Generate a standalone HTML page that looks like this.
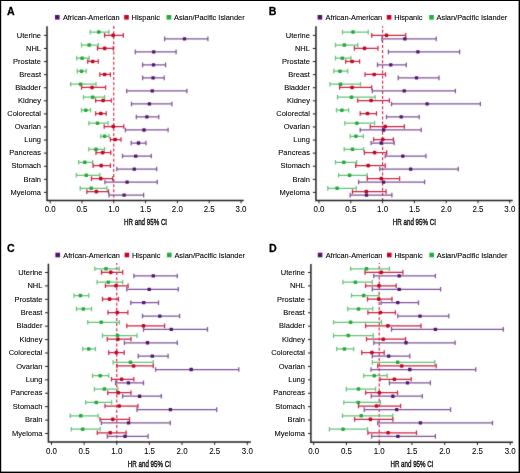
<!DOCTYPE html>
<html><head><meta charset="utf-8"><style>
html,body{margin:0;padding:0;background:#fff;}
svg{display:block;}
text{font-family:"Liberation Sans",sans-serif;-webkit-font-smoothing:antialiased;}
.pl{font-size:11.2px;font-weight:bold;fill:#000;stroke:#000;stroke-width:0.25;}
.lg{font-size:7.4px;fill:#000;stroke:#000;stroke-width:0.1;}
.cl{font-size:7.9px;fill:#000;text-anchor:end;stroke:#000;stroke-width:0.08;}
.xl{font-size:8.3px;fill:#000;text-anchor:middle;stroke:#000;stroke-width:0.05;}
.ht{font-size:9.4px;fill:#111;text-anchor:middle;stroke:#111;stroke-width:0.42;}
.ax{fill:none;stroke:#222;stroke-width:1.5;}
.tk{stroke:#222;stroke-width:1;}
.dash{stroke:#cf1c45;stroke-width:1.1;stroke-dasharray:3 2.1;}
.bar{fill:none;stroke-width:1.25;}
</style></head><body>
<svg width="520" height="473" viewBox="0 0 520 473" style="will-change:transform">
<defs><filter id="bl" x="0" y="0" width="100%" height="100%" filterUnits="userSpaceOnUse" color-interpolation-filters="sRGB"><feConvolveMatrix order="3" kernelMatrix="0.02 0.07 0.02 0.07 0.64 0.07 0.02 0.07 0.02" edgeMode="duplicate"/></filter></defs>
<rect x="0" y="0" width="520" height="473" fill="#fff"/>
<g filter="url(#bl)">
<g><rect x="55" y="15" width="4.6" height="4.6" fill="#50146e"/>
<rect x="124.2" y="15" width="4.6" height="4.6" fill="#c30523"/>
<rect x="166.6" y="15" width="4.6" height="4.6" fill="#23aa37"/>
<line x1="113.77" y1="26.1" x2="113.77" y2="200.4" class="dash" stroke-dashoffset="0"/>
<path d="M47 26.3V200.4H243.7" class="ax"/>
<line x1="43.9" y1="35.4" x2="47" y2="35.4" class="tk"/>
<line x1="43.9" y1="48.48" x2="47" y2="48.48" class="tk"/>
<line x1="43.9" y1="61.57" x2="47" y2="61.57" class="tk"/>
<line x1="43.9" y1="74.65" x2="47" y2="74.65" class="tk"/>
<line x1="43.9" y1="87.73" x2="47" y2="87.73" class="tk"/>
<line x1="43.9" y1="100.82" x2="47" y2="100.82" class="tk"/>
<line x1="43.9" y1="113.9" x2="47" y2="113.9" class="tk"/>
<line x1="43.9" y1="126.98" x2="47" y2="126.98" class="tk"/>
<line x1="43.9" y1="140.07" x2="47" y2="140.07" class="tk"/>
<line x1="43.9" y1="153.15" x2="47" y2="153.15" class="tk"/>
<line x1="43.9" y1="166.23" x2="47" y2="166.23" class="tk"/>
<line x1="43.9" y1="179.32" x2="47" y2="179.32" class="tk"/>
<line x1="43.9" y1="192.4" x2="47" y2="192.4" class="tk"/>
<line x1="50.15" y1="200.4" x2="50.15" y2="203.3" class="tk"/>
<line x1="81.96" y1="200.4" x2="81.96" y2="203.3" class="tk"/>
<line x1="113.77" y1="200.4" x2="113.77" y2="203.3" class="tk"/>
<line x1="145.57" y1="200.4" x2="145.57" y2="203.3" class="tk"/>
<line x1="177.38" y1="200.4" x2="177.38" y2="203.3" class="tk"/>
<line x1="209.19" y1="200.4" x2="209.19" y2="203.3" class="tk"/>
<line x1="241" y1="200.4" x2="241" y2="203.3" class="tk"/>
<path d="M90.2 32.1H109M90.2 29.8V34.4M109 29.8V34.4" stroke="#66c479" class="bar"/>
<rect x="97.05" y="30.35" width="3.5" height="3.5" rx="0.9" fill="#23aa37"/>
<path d="M104.6 35.4H123.3M104.6 33.1V37.7M123.3 33.1V37.7" stroke="#cc2545" class="bar"/>
<rect x="111.3" y="33.6" width="3.6" height="3.6" rx="1.1" fill="#c30523"/>
<path d="M164.6 38.85H207.9M164.6 36.55V41.15M207.9 36.55V41.15" stroke="#7e5496" class="bar"/>
<rect x="182.85" y="37.2" width="3.3" height="3.3" rx="0.5" fill="#50146e"/>
<path d="M81.5 45.12H98.3M81.5 42.82V47.42M98.3 42.82V47.42" stroke="#66c479" class="bar"/>
<rect x="87.45" y="43.37" width="3.5" height="3.5" rx="0.9" fill="#23aa37"/>
<path d="M97.5 48.42H113.3M97.5 46.12V50.72M113.3 46.12V50.72" stroke="#cc2545" class="bar"/>
<rect x="102.9" y="46.62" width="3.6" height="3.6" rx="1.1" fill="#c30523"/>
<path d="M135.3 51.87H176.1M135.3 49.57V54.17M176.1 49.57V54.17" stroke="#7e5496" class="bar"/>
<rect x="152.05" y="50.22" width="3.3" height="3.3" rx="0.5" fill="#50146e"/>
<path d="M76.7 58.14H89.2M76.7 55.84V60.44M89.2 55.84V60.44" stroke="#66c479" class="bar"/>
<rect x="80.35" y="56.39" width="3.5" height="3.5" rx="0.9" fill="#23aa37"/>
<path d="M87.7 61.44H98.3M87.7 59.14V63.74M98.3 59.14V63.74" stroke="#cc2545" class="bar"/>
<rect x="90.9" y="59.64" width="3.6" height="3.6" rx="1.1" fill="#c30523"/>
<path d="M142.6 64.89H165.6M142.6 62.59V67.19M165.6 62.59V67.19" stroke="#7e5496" class="bar"/>
<rect x="151.85" y="63.24" width="3.3" height="3.3" rx="0.5" fill="#50146e"/>
<path d="M77.3 71.16H86.3M77.3 68.86V73.46M86.3 68.86V73.46" stroke="#66c479" class="bar"/>
<rect x="79.75" y="69.41" width="3.5" height="3.5" rx="0.9" fill="#23aa37"/>
<path d="M99.8 74.46H110.4M99.8 72.16V76.76M110.4 72.16V76.76" stroke="#cc2545" class="bar"/>
<rect x="102.8" y="72.66" width="3.6" height="3.6" rx="1.1" fill="#c30523"/>
<path d="M142.6 77.91H164.2M142.6 75.61V80.21M164.2 75.61V80.21" stroke="#7e5496" class="bar"/>
<rect x="151.45" y="76.26" width="3.3" height="3.3" rx="0.5" fill="#50146e"/>
<path d="M70.6 84.18H96M70.6 81.88V86.48M96 81.88V86.48" stroke="#66c479" class="bar"/>
<rect x="78.85" y="82.43" width="3.5" height="3.5" rx="0.9" fill="#23aa37"/>
<path d="M81.5 87.48H105.6M81.5 85.18V89.78M105.6 85.18V89.78" stroke="#cc2545" class="bar"/>
<rect x="90.3" y="85.68" width="3.6" height="3.6" rx="1.1" fill="#c30523"/>
<path d="M126.7 90.93H186.9M126.7 88.63V93.23M186.9 88.63V93.23" stroke="#7e5496" class="bar"/>
<rect x="150.65" y="89.28" width="3.3" height="3.3" rx="0.5" fill="#50146e"/>
<path d="M83.5 97.2H104.6M83.5 94.9V99.5M104.6 94.9V99.5" stroke="#66c479" class="bar"/>
<rect x="90.95" y="95.45" width="3.5" height="3.5" rx="0.9" fill="#23aa37"/>
<path d="M95.6 100.5H111.3M95.6 98.2V102.8M111.3 98.2V102.8" stroke="#cc2545" class="bar"/>
<rect x="101.3" y="98.7" width="3.6" height="3.6" rx="1.1" fill="#c30523"/>
<path d="M131.5 103.95H171.9M131.5 101.65V106.25M171.9 101.65V106.25" stroke="#7e5496" class="bar"/>
<rect x="147.75" y="102.3" width="3.3" height="3.3" rx="0.5" fill="#50146e"/>
<path d="M81.5 110.22H90.6M81.5 107.92V112.52M90.6 107.92V112.52" stroke="#66c479" class="bar"/>
<rect x="84.05" y="108.47" width="3.5" height="3.5" rx="0.9" fill="#23aa37"/>
<path d="M95.6 113.52H106.2M95.6 111.22V115.82M106.2 111.22V115.82" stroke="#cc2545" class="bar"/>
<rect x="99" y="111.72" width="3.6" height="3.6" rx="1.1" fill="#c30523"/>
<path d="M136.3 116.97H158.8M136.3 114.67V119.27M158.8 114.67V119.27" stroke="#7e5496" class="bar"/>
<rect x="145.25" y="115.32" width="3.3" height="3.3" rx="0.5" fill="#50146e"/>
<path d="M88.8 123.24H108.1M88.8 120.94V125.54M108.1 120.94V125.54" stroke="#66c479" class="bar"/>
<rect x="95.75" y="121.49" width="3.5" height="3.5" rx="0.9" fill="#23aa37"/>
<path d="M104.2 126.54H123.8M104.2 124.24V128.84M123.8 124.24V128.84" stroke="#cc2545" class="bar"/>
<rect x="111.5" y="124.74" width="3.6" height="3.6" rx="1.1" fill="#c30523"/>
<path d="M125.4 129.99H168.1M125.4 127.69V132.29M168.1 127.69V132.29" stroke="#7e5496" class="bar"/>
<rect x="142.35" y="128.34" width="3.3" height="3.3" rx="0.5" fill="#50146e"/>
<path d="M100.8 136.26H109M100.8 133.96V138.56M109 133.96V138.56" stroke="#66c479" class="bar"/>
<rect x="102.85" y="134.51" width="3.5" height="3.5" rx="0.9" fill="#23aa37"/>
<path d="M110.4 139.56H121M110.4 137.26V141.86M121 137.26V141.86" stroke="#cc2545" class="bar"/>
<rect x="113.4" y="137.76" width="3.6" height="3.6" rx="1.1" fill="#c30523"/>
<path d="M131.2 143.01H146M131.2 140.71V145.31M146 140.71V145.31" stroke="#7e5496" class="bar"/>
<rect x="136.85" y="141.36" width="3.3" height="3.3" rx="0.5" fill="#50146e"/>
<path d="M88.8 149.28H104.6M88.8 146.98V151.58M104.6 146.98V151.58" stroke="#66c479" class="bar"/>
<rect x="94.25" y="147.53" width="3.5" height="3.5" rx="0.9" fill="#23aa37"/>
<path d="M96 152.58H110.8M96 150.28V154.88M110.8 150.28V154.88" stroke="#cc2545" class="bar"/>
<rect x="100.9" y="150.78" width="3.6" height="3.6" rx="1.1" fill="#c30523"/>
<path d="M122.5 156.03H151.3M122.5 153.73V158.33M151.3 153.73V158.33" stroke="#7e5496" class="bar"/>
<rect x="134.05" y="154.38" width="3.3" height="3.3" rx="0.5" fill="#50146e"/>
<path d="M78.7 162.3H92.7M78.7 160V164.6M92.7 160V164.6" stroke="#66c479" class="bar"/>
<rect x="83.05" y="160.55" width="3.5" height="3.5" rx="0.9" fill="#23aa37"/>
<path d="M93.1 165.6H110.4M93.1 163.3V167.9M110.4 163.3V167.9" stroke="#cc2545" class="bar"/>
<rect x="99.4" y="163.8" width="3.6" height="3.6" rx="1.1" fill="#c30523"/>
<path d="M116.8 169.05H156.7M116.8 166.75V171.35M156.7 166.75V171.35" stroke="#7e5496" class="bar"/>
<rect x="132.65" y="167.4" width="3.3" height="3.3" rx="0.5" fill="#50146e"/>
<path d="M76.3 175.32H99.8M76.3 173.02V177.62M99.8 173.02V177.62" stroke="#66c479" class="bar"/>
<rect x="84.55" y="173.57" width="3.5" height="3.5" rx="0.9" fill="#23aa37"/>
<path d="M91.5 178.62H112.7M91.5 176.32V180.92M112.7 176.32V180.92" stroke="#cc2545" class="bar"/>
<rect x="99" y="176.82" width="3.6" height="3.6" rx="1.1" fill="#c30523"/>
<path d="M104.9 182.07H157.3M104.9 179.77V184.37M157.3 179.77V184.37" stroke="#7e5496" class="bar"/>
<rect x="125.45" y="180.42" width="3.3" height="3.3" rx="0.5" fill="#50146e"/>
<path d="M80.2 188.34H106.9M80.2 186.04V190.64M106.9 186.04V190.64" stroke="#66c479" class="bar"/>
<rect x="89.45" y="186.59" width="3.5" height="3.5" rx="0.9" fill="#23aa37"/>
<path d="M86.9 191.64H108.5M86.9 189.34V193.94M108.5 189.34V193.94" stroke="#cc2545" class="bar"/>
<rect x="94.5" y="189.84" width="3.6" height="3.6" rx="1.1" fill="#c30523"/>
<path d="M109 195.09H143.6M109 192.79V197.39M143.6 192.79V197.39" stroke="#7e5496" class="bar"/>
<rect x="122.45" y="193.44" width="3.3" height="3.3" rx="0.5" fill="#50146e"/></g>
<g><rect x="317.6" y="15" width="4.6" height="4.6" fill="#50146e"/>
<rect x="386.8" y="15" width="4.6" height="4.6" fill="#c30523"/>
<rect x="429.2" y="15" width="4.6" height="4.6" fill="#23aa37"/>
<line x1="382.6" y1="25.9" x2="382.6" y2="200.4" class="dash" stroke-dashoffset="1.3"/>
<path d="M315.95 26.3V200.4H512.7" class="ax"/>
<line x1="312.85" y1="35.4" x2="315.95" y2="35.4" class="tk"/>
<line x1="312.85" y1="48.48" x2="315.95" y2="48.48" class="tk"/>
<line x1="312.85" y1="61.57" x2="315.95" y2="61.57" class="tk"/>
<line x1="312.85" y1="74.65" x2="315.95" y2="74.65" class="tk"/>
<line x1="312.85" y1="87.73" x2="315.95" y2="87.73" class="tk"/>
<line x1="312.85" y1="100.82" x2="315.95" y2="100.82" class="tk"/>
<line x1="312.85" y1="113.9" x2="315.95" y2="113.9" class="tk"/>
<line x1="312.85" y1="126.98" x2="315.95" y2="126.98" class="tk"/>
<line x1="312.85" y1="140.07" x2="315.95" y2="140.07" class="tk"/>
<line x1="312.85" y1="153.15" x2="315.95" y2="153.15" class="tk"/>
<line x1="312.85" y1="166.23" x2="315.95" y2="166.23" class="tk"/>
<line x1="312.85" y1="179.32" x2="315.95" y2="179.32" class="tk"/>
<line x1="312.85" y1="192.4" x2="315.95" y2="192.4" class="tk"/>
<line x1="319" y1="200.4" x2="319" y2="203.3" class="tk"/>
<line x1="350.8" y1="200.4" x2="350.8" y2="203.3" class="tk"/>
<line x1="382.6" y1="200.4" x2="382.6" y2="203.3" class="tk"/>
<line x1="414.4" y1="200.4" x2="414.4" y2="203.3" class="tk"/>
<line x1="446.2" y1="200.4" x2="446.2" y2="203.3" class="tk"/>
<line x1="478" y1="200.4" x2="478" y2="203.3" class="tk"/>
<line x1="509.8" y1="200.4" x2="509.8" y2="203.3" class="tk"/>
<path d="M342.5 32.1H368.2M342.5 29.8V34.4M368.2 29.8V34.4" stroke="#66c479" class="bar"/>
<rect x="351.25" y="30.35" width="3.5" height="3.5" rx="0.9" fill="#23aa37"/>
<path d="M371.7 35.4H405.7M371.7 33.1V37.7M405.7 33.1V37.7" stroke="#cc2545" class="bar"/>
<rect x="384.7" y="33.6" width="3.6" height="3.6" rx="1.1" fill="#c30523"/>
<path d="M381.9 38.85H436.2M381.9 36.55V41.15M436.2 36.55V41.15" stroke="#7e5496" class="bar"/>
<rect x="403.25" y="37.2" width="3.3" height="3.3" rx="0.5" fill="#50146e"/>
<path d="M335.5 45.12H357.8M335.5 42.82V47.42M357.8 42.82V47.42" stroke="#66c479" class="bar"/>
<rect x="342.65" y="43.37" width="3.5" height="3.5" rx="0.9" fill="#23aa37"/>
<path d="M354.4 48.42H378M354.4 46.12V50.72M378 46.12V50.72" stroke="#cc2545" class="bar"/>
<rect x="362.8" y="46.62" width="3.6" height="3.6" rx="1.1" fill="#c30523"/>
<path d="M388.4 51.87H459.6M388.4 49.57V54.17M459.6 49.57V54.17" stroke="#7e5496" class="bar"/>
<rect x="416.25" y="50.22" width="3.3" height="3.3" rx="0.5" fill="#50146e"/>
<path d="M335.5 58.14H350.9M335.5 55.84V60.44M350.9 55.84V60.44" stroke="#66c479" class="bar"/>
<rect x="340.55" y="56.39" width="3.5" height="3.5" rx="0.9" fill="#23aa37"/>
<path d="M345.7 61.44H359.6M345.7 59.14V63.74M359.6 59.14V63.74" stroke="#cc2545" class="bar"/>
<rect x="350.3" y="59.64" width="3.6" height="3.6" rx="1.1" fill="#c30523"/>
<path d="M377.5 64.89H406.3M377.5 62.59V67.19M406.3 62.59V67.19" stroke="#7e5496" class="bar"/>
<rect x="389.15" y="63.24" width="3.3" height="3.3" rx="0.5" fill="#50146e"/>
<path d="M333.8 71.16H347.7M333.8 68.86V73.46M347.7 68.86V73.46" stroke="#66c479" class="bar"/>
<rect x="338.25" y="69.41" width="3.5" height="3.5" rx="0.9" fill="#23aa37"/>
<path d="M365 74.46H385.5M365 72.16V76.76M385.5 72.16V76.76" stroke="#cc2545" class="bar"/>
<rect x="372.4" y="72.66" width="3.6" height="3.6" rx="1.1" fill="#c30523"/>
<path d="M398.2 77.91H439M398.2 75.61V80.21M439 75.61V80.21" stroke="#7e5496" class="bar"/>
<rect x="414.85" y="76.26" width="3.3" height="3.3" rx="0.5" fill="#50146e"/>
<path d="M330 84.18H360.5M330 81.88V86.48M360.5 81.88V86.48" stroke="#66c479" class="bar"/>
<rect x="338.75" y="82.43" width="3.5" height="3.5" rx="0.9" fill="#23aa37"/>
<path d="M339.6 87.48H371.7M339.6 85.18V89.78M371.7 85.18V89.78" stroke="#cc2545" class="bar"/>
<rect x="350.3" y="85.68" width="3.6" height="3.6" rx="1.1" fill="#c30523"/>
<path d="M372.3 90.93H455.4M372.3 88.63V93.23M455.4 88.63V93.23" stroke="#7e5496" class="bar"/>
<rect x="402.55" y="89.28" width="3.3" height="3.3" rx="0.5" fill="#50146e"/>
<path d="M337.5 97.2H375.2M337.5 94.9V99.5M375.2 94.9V99.5" stroke="#66c479" class="bar"/>
<rect x="349.75" y="95.45" width="3.5" height="3.5" rx="0.9" fill="#23aa37"/>
<path d="M357.7 100.5H389.4M357.7 98.2V102.8M389.4 98.2V102.8" stroke="#cc2545" class="bar"/>
<rect x="369.3" y="98.7" width="3.6" height="3.6" rx="1.1" fill="#c30523"/>
<path d="M391.5 103.95H480.4M391.5 101.65V106.25M480.4 101.65V106.25" stroke="#7e5496" class="bar"/>
<rect x="425.45" y="102.3" width="3.3" height="3.3" rx="0.5" fill="#50146e"/>
<path d="M336.5 110.22H348.6M336.5 107.92V112.52M348.6 107.92V112.52" stroke="#66c479" class="bar"/>
<rect x="340.15" y="108.47" width="3.5" height="3.5" rx="0.9" fill="#23aa37"/>
<path d="M360.2 113.52H376.5M360.2 111.22V115.82M376.5 111.22V115.82" stroke="#cc2545" class="bar"/>
<rect x="365.7" y="111.72" width="3.6" height="3.6" rx="1.1" fill="#c30523"/>
<path d="M386.5 116.97H419.2M386.5 114.67V119.27M419.2 114.67V119.27" stroke="#7e5496" class="bar"/>
<rect x="399.55" y="115.32" width="3.3" height="3.3" rx="0.5" fill="#50146e"/>
<path d="M344.8 123.24H374.6M344.8 120.94V125.54M374.6 120.94V125.54" stroke="#66c479" class="bar"/>
<rect x="355.15" y="121.49" width="3.5" height="3.5" rx="0.9" fill="#23aa37"/>
<path d="M370.3 126.54H404.4M370.3 124.24V128.84M404.4 124.24V128.84" stroke="#cc2545" class="bar"/>
<rect x="383.4" y="124.74" width="3.6" height="3.6" rx="1.1" fill="#c30523"/>
<path d="M360.2 129.99H421.2M360.2 127.69V132.29M421.2 127.69V132.29" stroke="#7e5496" class="bar"/>
<rect x="381.95" y="128.34" width="3.3" height="3.3" rx="0.5" fill="#50146e"/>
<path d="M350.2 136.26H363.4M350.2 133.96V138.56M363.4 133.96V138.56" stroke="#66c479" class="bar"/>
<rect x="354.15" y="134.51" width="3.5" height="3.5" rx="0.9" fill="#23aa37"/>
<path d="M373.6 139.56H393.4M373.6 137.26V141.86M393.4 137.26V141.86" stroke="#cc2545" class="bar"/>
<rect x="381" y="137.76" width="3.6" height="3.6" rx="1.1" fill="#c30523"/>
<path d="M371.1 143.01H394.2M371.1 140.71V145.31M394.2 140.71V145.31" stroke="#7e5496" class="bar"/>
<rect x="379.65" y="141.36" width="3.3" height="3.3" rx="0.5" fill="#50146e"/>
<path d="M344.2 149.28H363.6M344.2 146.98V151.58M363.6 146.98V151.58" stroke="#66c479" class="bar"/>
<rect x="350.75" y="147.53" width="3.5" height="3.5" rx="0.9" fill="#23aa37"/>
<path d="M364.4 152.58H386.7M364.4 150.28V154.88M386.7 150.28V154.88" stroke="#cc2545" class="bar"/>
<rect x="372.8" y="150.78" width="3.6" height="3.6" rx="1.1" fill="#c30523"/>
<path d="M385.2 156.03H426M385.2 153.73V158.33M426 153.73V158.33" stroke="#7e5496" class="bar"/>
<rect x="401.15" y="154.38" width="3.3" height="3.3" rx="0.5" fill="#50146e"/>
<path d="M335.5 162.3H356.7M335.5 160V164.6M356.7 160V164.6" stroke="#66c479" class="bar"/>
<rect x="342.05" y="160.55" width="3.5" height="3.5" rx="0.9" fill="#23aa37"/>
<path d="M355.7 165.6H385.2M355.7 163.3V167.9M385.2 163.3V167.9" stroke="#cc2545" class="bar"/>
<rect x="366.4" y="163.8" width="3.6" height="3.6" rx="1.1" fill="#c30523"/>
<path d="M379.8 169.05H458.3M379.8 166.75V171.35M458.3 166.75V171.35" stroke="#7e5496" class="bar"/>
<rect x="409.05" y="167.4" width="3.3" height="3.3" rx="0.5" fill="#50146e"/>
<path d="M338.6 175.32H367.3M338.6 173.02V177.62M367.3 173.02V177.62" stroke="#66c479" class="bar"/>
<rect x="347.85" y="173.57" width="3.5" height="3.5" rx="0.9" fill="#23aa37"/>
<path d="M367.3 178.62H399.6M367.3 176.32V180.92M399.6 176.32V180.92" stroke="#cc2545" class="bar"/>
<rect x="379.5" y="176.82" width="3.6" height="3.6" rx="1.1" fill="#c30523"/>
<path d="M358.6 182.07H424.6M358.6 179.77V184.37M424.6 179.77V184.37" stroke="#7e5496" class="bar"/>
<rect x="381.95" y="180.42" width="3.3" height="3.3" rx="0.5" fill="#50146e"/>
<path d="M327.8 188.34H356.3M327.8 186.04V190.64M356.3 186.04V190.64" stroke="#66c479" class="bar"/>
<rect x="335.35" y="186.59" width="3.5" height="3.5" rx="0.9" fill="#23aa37"/>
<path d="M352.5 191.64H386.1M352.5 189.34V193.94M386.1 189.34V193.94" stroke="#cc2545" class="bar"/>
<rect x="364.5" y="189.84" width="3.6" height="3.6" rx="1.1" fill="#c30523"/>
<path d="M350.2 195.09H391.9M350.2 192.79V197.39M391.9 192.79V197.39" stroke="#7e5496" class="bar"/>
<rect x="364.85" y="193.44" width="3.3" height="3.3" rx="0.5" fill="#50146e"/></g>
<g><rect x="55.4" y="252.7" width="4.6" height="4.6" fill="#50146e"/>
<rect x="124.6" y="252.7" width="4.6" height="4.6" fill="#c30523"/>
<rect x="167" y="252.7" width="4.6" height="4.6" fill="#23aa37"/>
<line x1="116.77" y1="263" x2="116.77" y2="442" class="dash" stroke-dashoffset="1.1"/>
<path d="M48.4 263.8V442H250.9" class="ax"/>
<line x1="45" y1="272.5" x2="48.4" y2="272.5" class="tk"/>
<line x1="45" y1="285.92" x2="48.4" y2="285.92" class="tk"/>
<line x1="45" y1="299.33" x2="48.4" y2="299.33" class="tk"/>
<line x1="45" y1="312.75" x2="48.4" y2="312.75" class="tk"/>
<line x1="45" y1="326.17" x2="48.4" y2="326.17" class="tk"/>
<line x1="45" y1="339.58" x2="48.4" y2="339.58" class="tk"/>
<line x1="45" y1="353" x2="48.4" y2="353" class="tk"/>
<line x1="45" y1="366.42" x2="48.4" y2="366.42" class="tk"/>
<line x1="45" y1="379.83" x2="48.4" y2="379.83" class="tk"/>
<line x1="45" y1="393.25" x2="48.4" y2="393.25" class="tk"/>
<line x1="45" y1="406.67" x2="48.4" y2="406.67" class="tk"/>
<line x1="45" y1="420.08" x2="48.4" y2="420.08" class="tk"/>
<line x1="45" y1="433.5" x2="48.4" y2="433.5" class="tk"/>
<line x1="51.5" y1="442" x2="51.5" y2="444.9" class="tk"/>
<line x1="84.13" y1="442" x2="84.13" y2="444.9" class="tk"/>
<line x1="116.77" y1="442" x2="116.77" y2="444.9" class="tk"/>
<line x1="149.4" y1="442" x2="149.4" y2="444.9" class="tk"/>
<line x1="182.03" y1="442" x2="182.03" y2="444.9" class="tk"/>
<line x1="214.67" y1="442" x2="214.67" y2="444.9" class="tk"/>
<line x1="247.3" y1="442" x2="247.3" y2="444.9" class="tk"/>
<path d="M94.8 268.8H119.2M94.8 266.5V271.1M119.2 266.5V271.1" stroke="#66c479" class="bar"/>
<rect x="104.25" y="267.05" width="3.5" height="3.5" rx="0.9" fill="#23aa37"/>
<path d="M101.5 272.4H122.7M101.5 270.1V274.7M122.7 270.1V274.7" stroke="#cc2545" class="bar"/>
<rect x="109" y="270.6" width="3.6" height="3.6" rx="1.1" fill="#c30523"/>
<path d="M133.9 275.95H177.3M133.9 273.65V278.25M177.3 273.65V278.25" stroke="#7e5496" class="bar"/>
<rect x="151.65" y="274.3" width="3.3" height="3.3" rx="0.5" fill="#50146e"/>
<path d="M97.1 282.16H122.7M97.1 279.86V284.46M122.7 279.86V284.46" stroke="#66c479" class="bar"/>
<rect x="106.55" y="280.41" width="3.5" height="3.5" rx="0.9" fill="#23aa37"/>
<path d="M105.4 285.76H128.1M105.4 283.46V288.06M128.1 283.46V288.06" stroke="#cc2545" class="bar"/>
<rect x="114.2" y="283.96" width="3.6" height="3.6" rx="1.1" fill="#c30523"/>
<path d="M126.8 289.31H178.3M126.8 287.01V291.62M178.3 287.01V291.62" stroke="#7e5496" class="bar"/>
<rect x="147.55" y="287.67" width="3.3" height="3.3" rx="0.5" fill="#50146e"/>
<path d="M74 295.53H88.7M74 293.23V297.83M88.7 293.23V297.83" stroke="#66c479" class="bar"/>
<rect x="78.65" y="293.78" width="3.5" height="3.5" rx="0.9" fill="#23aa37"/>
<path d="M102.5 299.13H118.5M102.5 296.83V301.43M118.5 296.83V301.43" stroke="#cc2545" class="bar"/>
<rect x="107.8" y="297.33" width="3.6" height="3.6" rx="1.1" fill="#c30523"/>
<path d="M130.8 302.68H158.5M130.8 300.38V304.98M158.5 300.38V304.98" stroke="#7e5496" class="bar"/>
<rect x="142.05" y="301.03" width="3.3" height="3.3" rx="0.5" fill="#50146e"/>
<path d="M76.5 308.89H91.5M76.5 306.59V311.19M91.5 306.59V311.19" stroke="#66c479" class="bar"/>
<rect x="81.55" y="307.14" width="3.5" height="3.5" rx="0.9" fill="#23aa37"/>
<path d="M107.9 312.5H127.9M107.9 310.19V314.8M127.9 310.19V314.8" stroke="#cc2545" class="bar"/>
<rect x="115.5" y="310.69" width="3.6" height="3.6" rx="1.1" fill="#c30523"/>
<path d="M142.5 316.05H179.6M142.5 313.75V318.35M179.6 313.75V318.35" stroke="#7e5496" class="bar"/>
<rect x="158.15" y="314.4" width="3.3" height="3.3" rx="0.5" fill="#50146e"/>
<path d="M87.7 322.26H119.4M87.7 319.96V324.56M119.4 319.96V324.56" stroke="#66c479" class="bar"/>
<rect x="99.45" y="320.51" width="3.5" height="3.5" rx="0.9" fill="#23aa37"/>
<path d="M126.8 325.86H164.6M126.8 323.56V328.16M164.6 323.56V328.16" stroke="#cc2545" class="bar"/>
<rect x="141.7" y="324.06" width="3.6" height="3.6" rx="1.1" fill="#c30523"/>
<path d="M143.5 329.41H207.5M143.5 327.11V331.71M207.5 327.11V331.71" stroke="#7e5496" class="bar"/>
<rect x="169.65" y="327.76" width="3.3" height="3.3" rx="0.5" fill="#50146e"/>
<path d="M102.5 335.62H137M102.5 333.32V337.92M137 333.32V337.92" stroke="#66c479" class="bar"/>
<rect x="115.75" y="333.87" width="3.5" height="3.5" rx="0.9" fill="#23aa37"/>
<path d="M107.3 339.22H131M107.3 336.92V341.52M131 336.92V341.52" stroke="#cc2545" class="bar"/>
<rect x="116.1" y="337.42" width="3.6" height="3.6" rx="1.1" fill="#c30523"/>
<path d="M124.4 342.77H177.3M124.4 340.47V345.07M177.3 340.47V345.07" stroke="#7e5496" class="bar"/>
<rect x="145.85" y="341.12" width="3.3" height="3.3" rx="0.5" fill="#50146e"/>
<path d="M82.7 348.99H95.4M82.7 346.69V351.29M95.4 346.69V351.29" stroke="#66c479" class="bar"/>
<rect x="86.95" y="347.24" width="3.5" height="3.5" rx="0.9" fill="#23aa37"/>
<path d="M108.7 352.59H124.2M108.7 350.29V354.89M124.2 350.29V354.89" stroke="#cc2545" class="bar"/>
<rect x="114.5" y="350.79" width="3.6" height="3.6" rx="1.1" fill="#c30523"/>
<path d="M138.2 356.14H168.1M138.2 353.84V358.44M168.1 353.84V358.44" stroke="#7e5496" class="bar"/>
<rect x="150.65" y="354.49" width="3.3" height="3.3" rx="0.5" fill="#50146e"/>
<path d="M113.1 362.35H153.3M113.1 360.05V364.65M153.3 360.05V364.65" stroke="#66c479" class="bar"/>
<rect x="128.75" y="360.6" width="3.5" height="3.5" rx="0.9" fill="#23aa37"/>
<path d="M116.9 365.95H153.3M116.9 363.65V368.25M153.3 363.65V368.25" stroke="#cc2545" class="bar"/>
<rect x="131.8" y="364.15" width="3.6" height="3.6" rx="1.1" fill="#c30523"/>
<path d="M155.6 369.5H238.8M155.6 367.2V371.81M238.8 367.2V371.81" stroke="#7e5496" class="bar"/>
<rect x="189.55" y="367.86" width="3.3" height="3.3" rx="0.5" fill="#50146e"/>
<path d="M92.5 375.72H108.7M92.5 373.42V378.02M108.7 373.42V378.02" stroke="#66c479" class="bar"/>
<rect x="98.45" y="373.97" width="3.5" height="3.5" rx="0.9" fill="#23aa37"/>
<path d="M111.5 379.32H133.8M111.5 377.02V381.62M133.8 377.02V381.62" stroke="#cc2545" class="bar"/>
<rect x="119.8" y="377.52" width="3.6" height="3.6" rx="1.1" fill="#c30523"/>
<path d="M115.6 382.87H143.5M115.6 380.57V385.17M143.5 380.57V385.17" stroke="#7e5496" class="bar"/>
<rect x="126.75" y="381.22" width="3.3" height="3.3" rx="0.5" fill="#50146e"/>
<path d="M94.4 389.08H117.9M94.4 386.78V391.38M117.9 386.78V391.38" stroke="#66c479" class="bar"/>
<rect x="102.65" y="387.33" width="3.5" height="3.5" rx="0.9" fill="#23aa37"/>
<path d="M107.7 392.68H131M107.7 390.38V394.98M131 390.38V394.98" stroke="#cc2545" class="bar"/>
<rect x="116.5" y="390.88" width="3.6" height="3.6" rx="1.1" fill="#c30523"/>
<path d="M122.6 396.23H161.3M122.6 393.93V398.53M161.3 393.93V398.53" stroke="#7e5496" class="bar"/>
<rect x="137.95" y="394.58" width="3.3" height="3.3" rx="0.5" fill="#50146e"/>
<path d="M85.6 402.45H111.7M85.6 400.15V404.75M111.7 400.15V404.75" stroke="#66c479" class="bar"/>
<rect x="94.55" y="400.7" width="3.5" height="3.5" rx="0.9" fill="#23aa37"/>
<path d="M105 406.05H137.9M105 403.75V408.35M137.9 403.75V408.35" stroke="#cc2545" class="bar"/>
<rect x="117.4" y="404.25" width="3.6" height="3.6" rx="1.1" fill="#c30523"/>
<path d="M137 409.6H216.7M137 407.3V411.9M216.7 407.3V411.9" stroke="#7e5496" class="bar"/>
<rect x="168.75" y="407.95" width="3.3" height="3.3" rx="0.5" fill="#50146e"/>
<path d="M70.2 415.81H98.1M70.2 413.51V418.11M98.1 413.51V418.11" stroke="#66c479" class="bar"/>
<rect x="79.05" y="414.06" width="3.5" height="3.5" rx="0.9" fill="#23aa37"/>
<path d="M100 419.41H129.5M100 417.11V421.71M129.5 417.11V421.71" stroke="#cc2545" class="bar"/>
<rect x="111" y="417.61" width="3.6" height="3.6" rx="1.1" fill="#c30523"/>
<path d="M101.4 422.96H170.3M101.4 420.66V425.26M170.3 420.66V425.26" stroke="#7e5496" class="bar"/>
<rect x="126.85" y="421.31" width="3.3" height="3.3" rx="0.5" fill="#50146e"/>
<path d="M71.3 429.18H100.2M71.3 426.88V431.48M100.2 426.88V431.48" stroke="#66c479" class="bar"/>
<rect x="80.95" y="427.43" width="3.5" height="3.5" rx="0.9" fill="#23aa37"/>
<path d="M97.3 432.78H126.1M97.3 430.48V435.08M126.1 430.48V435.08" stroke="#cc2545" class="bar"/>
<rect x="108.4" y="430.98" width="3.6" height="3.6" rx="1.1" fill="#c30523"/>
<path d="M107.3 436.33H148.1M107.3 434.03V438.63M148.1 434.03V438.63" stroke="#7e5496" class="bar"/>
<rect x="123.35" y="434.68" width="3.3" height="3.3" rx="0.5" fill="#50146e"/></g>
<g><rect x="317.8" y="252.7" width="4.6" height="4.6" fill="#50146e"/>
<rect x="387" y="252.7" width="4.6" height="4.6" fill="#c30523"/>
<rect x="429.4" y="252.7" width="4.6" height="4.6" fill="#23aa37"/>
<line x1="379.2" y1="262.9" x2="379.2" y2="442.2" class="dash" stroke-dashoffset="1.8"/>
<path d="M310.9 263.9V442.2H513.1" class="ax"/>
<line x1="308" y1="272.5" x2="310.9" y2="272.5" class="tk"/>
<line x1="308" y1="285.92" x2="310.9" y2="285.92" class="tk"/>
<line x1="308" y1="299.33" x2="310.9" y2="299.33" class="tk"/>
<line x1="308" y1="312.75" x2="310.9" y2="312.75" class="tk"/>
<line x1="308" y1="326.17" x2="310.9" y2="326.17" class="tk"/>
<line x1="308" y1="339.58" x2="310.9" y2="339.58" class="tk"/>
<line x1="308" y1="353" x2="310.9" y2="353" class="tk"/>
<line x1="308" y1="366.42" x2="310.9" y2="366.42" class="tk"/>
<line x1="308" y1="379.83" x2="310.9" y2="379.83" class="tk"/>
<line x1="308" y1="393.25" x2="310.9" y2="393.25" class="tk"/>
<line x1="308" y1="406.67" x2="310.9" y2="406.67" class="tk"/>
<line x1="308" y1="420.08" x2="310.9" y2="420.08" class="tk"/>
<line x1="308" y1="433.5" x2="310.9" y2="433.5" class="tk"/>
<line x1="313.7" y1="442.2" x2="313.7" y2="445.1" class="tk"/>
<line x1="346.45" y1="442.2" x2="346.45" y2="445.1" class="tk"/>
<line x1="379.2" y1="442.2" x2="379.2" y2="445.1" class="tk"/>
<line x1="411.95" y1="442.2" x2="411.95" y2="445.1" class="tk"/>
<line x1="444.7" y1="442.2" x2="444.7" y2="445.1" class="tk"/>
<line x1="477.45" y1="442.2" x2="477.45" y2="445.1" class="tk"/>
<line x1="510.2" y1="442.2" x2="510.2" y2="445.1" class="tk"/>
<path d="M350.6 268.8H389.4M350.6 266.5V271.1M389.4 266.5V271.1" stroke="#66c479" class="bar"/>
<rect x="364.75" y="267.05" width="3.5" height="3.5" rx="0.9" fill="#23aa37"/>
<path d="M365 272.4H402.9M365 270.1V274.7M402.9 270.1V274.7" stroke="#cc2545" class="bar"/>
<rect x="379.5" y="270.6" width="3.6" height="3.6" rx="1.1" fill="#c30523"/>
<path d="M373.7 275.95H435.4M373.7 273.65V278.25M435.4 273.65V278.25" stroke="#7e5496" class="bar"/>
<rect x="397.55" y="274.3" width="3.3" height="3.3" rx="0.5" fill="#50146e"/>
<path d="M342.9 282.16H372.3M342.9 279.86V284.46M372.3 279.86V284.46" stroke="#66c479" class="bar"/>
<rect x="353.65" y="280.41" width="3.5" height="3.5" rx="0.9" fill="#23aa37"/>
<path d="M365.6 285.76H396.2M365.6 283.46V288.06M396.2 283.46V288.06" stroke="#cc2545" class="bar"/>
<rect x="377.2" y="283.96" width="3.6" height="3.6" rx="1.1" fill="#c30523"/>
<path d="M372.3 289.31H440.6M372.3 287.01V291.62M440.6 287.01V291.62" stroke="#7e5496" class="bar"/>
<rect x="397.55" y="287.67" width="3.3" height="3.3" rx="0.5" fill="#50146e"/>
<path d="M351.5 295.53H379M351.5 293.23V297.83M379 293.23V297.83" stroke="#66c479" class="bar"/>
<rect x="361.95" y="293.78" width="3.5" height="3.5" rx="0.9" fill="#23aa37"/>
<path d="M367.5 299.13H392M367.5 296.83V301.43M392 296.83V301.43" stroke="#cc2545" class="bar"/>
<rect x="376.9" y="297.33" width="3.6" height="3.6" rx="1.1" fill="#c30523"/>
<path d="M381.1 302.68H418.5M381.1 300.38V304.98M418.5 300.38V304.98" stroke="#7e5496" class="bar"/>
<rect x="396.15" y="301.03" width="3.3" height="3.3" rx="0.5" fill="#50146e"/>
<path d="M347.7 308.89H372.7M347.7 306.59V311.19M372.7 306.59V311.19" stroke="#66c479" class="bar"/>
<rect x="356.75" y="307.14" width="3.5" height="3.5" rx="0.9" fill="#23aa37"/>
<path d="M367.9 312.5H395.4M367.9 310.19V314.8M395.4 310.19V314.8" stroke="#cc2545" class="bar"/>
<rect x="378.6" y="310.69" width="3.6" height="3.6" rx="1.1" fill="#c30523"/>
<path d="M397.7 316.05H448.8M397.7 313.75V318.35M448.8 313.75V318.35" stroke="#7e5496" class="bar"/>
<rect x="418.35" y="314.4" width="3.3" height="3.3" rx="0.5" fill="#50146e"/>
<path d="M333.5 322.26H381.5M333.5 319.96V324.56M381.5 319.96V324.56" stroke="#66c479" class="bar"/>
<rect x="348.85" y="320.51" width="3.5" height="3.5" rx="0.9" fill="#23aa37"/>
<path d="M365.6 325.86H421M365.6 323.56V328.16M421 323.56V328.16" stroke="#cc2545" class="bar"/>
<rect x="386.1" y="324.06" width="3.6" height="3.6" rx="1.1" fill="#c30523"/>
<path d="M391.5 329.41H503.3M391.5 327.11V331.71M503.3 327.11V331.71" stroke="#7e5496" class="bar"/>
<rect x="433.75" y="327.76" width="3.3" height="3.3" rx="0.5" fill="#50146e"/>
<path d="M333.5 335.62H373.3M333.5 333.32V337.92M373.3 333.32V337.92" stroke="#66c479" class="bar"/>
<rect x="346.55" y="333.87" width="3.5" height="3.5" rx="0.9" fill="#23aa37"/>
<path d="M366.5 339.22H405.6M366.5 336.92V341.52M405.6 336.92V341.52" stroke="#cc2545" class="bar"/>
<rect x="381.5" y="337.42" width="3.6" height="3.6" rx="1.1" fill="#c30523"/>
<path d="M373.8 342.77H455.1M373.8 340.47V345.07M455.1 340.47V345.07" stroke="#7e5496" class="bar"/>
<rect x="404.35" y="341.12" width="3.3" height="3.3" rx="0.5" fill="#50146e"/>
<path d="M336.7 348.99H353.7M336.7 346.69V351.29M353.7 346.69V351.29" stroke="#66c479" class="bar"/>
<rect x="342.65" y="347.24" width="3.5" height="3.5" rx="0.9" fill="#23aa37"/>
<path d="M361.7 352.59H384.2M361.7 350.29V354.89M384.2 350.29V354.89" stroke="#cc2545" class="bar"/>
<rect x="370.1" y="350.79" width="3.6" height="3.6" rx="1.1" fill="#c30523"/>
<path d="M372.3 356.14H409.8M372.3 353.84V358.44M409.8 353.84V358.44" stroke="#7e5496" class="bar"/>
<rect x="387.05" y="354.49" width="3.3" height="3.3" rx="0.5" fill="#50146e"/>
<path d="M372.3 362.35H434.8M372.3 360.05V364.65M434.8 360.05V364.65" stroke="#66c479" class="bar"/>
<rect x="395.95" y="360.6" width="3.5" height="3.5" rx="0.9" fill="#23aa37"/>
<path d="M377.7 365.95H436.2M377.7 363.65V368.25M436.2 363.65V368.25" stroke="#cc2545" class="bar"/>
<rect x="399.9" y="364.15" width="3.6" height="3.6" rx="1.1" fill="#c30523"/>
<path d="M371 369.5H475.8M371 367.2V371.81M475.8 367.2V371.81" stroke="#7e5496" class="bar"/>
<rect x="408.15" y="367.86" width="3.3" height="3.3" rx="0.5" fill="#50146e"/>
<path d="M363.7 375.72H387.2M363.7 373.42V378.02M387.2 373.42V378.02" stroke="#66c479" class="bar"/>
<rect x="372.45" y="373.97" width="3.5" height="3.5" rx="0.9" fill="#23aa37"/>
<path d="M380 379.32H411.2M380 377.02V381.62M411.2 377.02V381.62" stroke="#cc2545" class="bar"/>
<rect x="392.6" y="377.52" width="3.6" height="3.6" rx="1.1" fill="#c30523"/>
<path d="M389.4 382.87H430.4M389.4 380.57V385.17M430.4 380.57V385.17" stroke="#7e5496" class="bar"/>
<rect x="405.85" y="381.22" width="3.3" height="3.3" rx="0.5" fill="#50146e"/>
<path d="M346.3 389.08H375.6M346.3 386.78V391.38M375.6 386.78V391.38" stroke="#66c479" class="bar"/>
<rect x="356.75" y="387.33" width="3.5" height="3.5" rx="0.9" fill="#23aa37"/>
<path d="M365.6 392.68H397.5M365.6 390.38V394.98M397.5 390.38V394.98" stroke="#cc2545" class="bar"/>
<rect x="377.6" y="390.88" width="3.6" height="3.6" rx="1.1" fill="#c30523"/>
<path d="M371.3 396.23H422.3M371.3 393.93V398.53M422.3 393.93V398.53" stroke="#7e5496" class="bar"/>
<rect x="391.25" y="394.58" width="3.3" height="3.3" rx="0.5" fill="#50146e"/>
<path d="M343.8 402.45H380.4M343.8 400.15V404.75M380.4 400.15V404.75" stroke="#66c479" class="bar"/>
<rect x="356.55" y="400.7" width="3.5" height="3.5" rx="0.9" fill="#23aa37"/>
<path d="M358.5 406.05H400.6M358.5 403.75V408.35M400.6 403.75V408.35" stroke="#cc2545" class="bar"/>
<rect x="374.7" y="404.25" width="3.6" height="3.6" rx="1.1" fill="#c30523"/>
<path d="M364.2 409.6H450.6M364.2 407.3V411.9M450.6 407.3V411.9" stroke="#7e5496" class="bar"/>
<rect x="395.05" y="407.95" width="3.3" height="3.3" rx="0.5" fill="#50146e"/>
<path d="M342.5 415.81H392.7M342.5 413.51V418.11M392.7 413.51V418.11" stroke="#66c479" class="bar"/>
<rect x="359.45" y="414.06" width="3.5" height="3.5" rx="0.9" fill="#23aa37"/>
<path d="M354.6 419.41H392.9M354.6 417.11V421.71M392.9 417.11V421.71" stroke="#cc2545" class="bar"/>
<rect x="368.6" y="417.61" width="3.6" height="3.6" rx="1.1" fill="#c30523"/>
<path d="M377.7 422.96H492.5M377.7 420.66V425.26M492.5 420.66V425.26" stroke="#7e5496" class="bar"/>
<rect x="418.75" y="421.31" width="3.3" height="3.3" rx="0.5" fill="#50146e"/>
<path d="M329.4 429.18H367.5M329.4 426.88V431.48M367.5 426.88V431.48" stroke="#66c479" class="bar"/>
<rect x="341.35" y="427.43" width="3.5" height="3.5" rx="0.9" fill="#23aa37"/>
<path d="M367.9 432.78H416.5M367.9 430.48V435.08M416.5 430.48V435.08" stroke="#cc2545" class="bar"/>
<rect x="386.3" y="430.98" width="3.6" height="3.6" rx="1.1" fill="#c30523"/>
<path d="M371.7 436.33H435.4M371.7 434.03V438.63M435.4 434.03V438.63" stroke="#7e5496" class="bar"/>
<rect x="396.25" y="434.68" width="3.3" height="3.3" rx="0.5" fill="#50146e"/></g>
</g>
<text transform="translate(7.1 14.85) scale(0.95 1)" class="pl">A</text>
<text x="62.9" y="19.9" class="lg">African-American</text>
<text x="131.6" y="19.9" class="lg">Hispanic</text>
<text x="174" y="19.9" class="lg">Asian/Pacific Islander</text>
<text transform="translate(41 37.6) scale(0.95 1)" class="cl">Uterine</text>
<text transform="translate(41 50.68) scale(0.95 1)" class="cl">NHL</text>
<text transform="translate(41 63.77) scale(0.95 1)" class="cl">Prostate</text>
<text transform="translate(41 76.85) scale(0.95 1)" class="cl">Breast</text>
<text transform="translate(41 89.93) scale(0.95 1)" class="cl">Bladder</text>
<text transform="translate(41 103.02) scale(0.95 1)" class="cl">Kidney</text>
<text transform="translate(41 116.1) scale(0.95 1)" class="cl">Colorectal</text>
<text transform="translate(41 129.18) scale(0.95 1)" class="cl">Ovarian</text>
<text transform="translate(41 142.27) scale(0.95 1)" class="cl">Lung</text>
<text transform="translate(41 155.35) scale(0.95 1)" class="cl">Pancreas</text>
<text transform="translate(41 168.43) scale(0.95 1)" class="cl">Stomach</text>
<text transform="translate(41 181.52) scale(0.95 1)" class="cl">Brain</text>
<text transform="translate(41 194.6) scale(0.95 1)" class="cl">Myeloma</text>
<text transform="translate(50.15 212.4) scale(0.96 1)" class="xl">0.0</text>
<text transform="translate(81.96 212.4) scale(0.96 1)" class="xl">0.5</text>
<text transform="translate(113.77 212.4) scale(0.96 1)" class="xl">1.0</text>
<text transform="translate(145.57 212.4) scale(0.96 1)" class="xl">1.5</text>
<text transform="translate(177.38 212.4) scale(0.96 1)" class="xl">2.0</text>
<text transform="translate(209.19 212.4) scale(0.96 1)" class="xl">2.5</text>
<text transform="translate(241 212.4) scale(0.96 1)" class="xl">3.0</text>
<text x="145.57" y="225" class="ht" transform="translate(145.57 0) scale(0.66 1) translate(-145.57 0)">HR and 95% CI</text>
<text transform="translate(268.8 14.6) scale(0.95 1)" class="pl">B</text>
<text x="325.5" y="19.9" class="lg">African-American</text>
<text x="394.2" y="19.9" class="lg">Hispanic</text>
<text x="436.6" y="19.9" class="lg">Asian/Pacific Islander</text>
<text transform="translate(309.95 37.6) scale(0.95 1)" class="cl">Uterine</text>
<text transform="translate(309.95 50.68) scale(0.95 1)" class="cl">NHL</text>
<text transform="translate(309.95 63.77) scale(0.95 1)" class="cl">Prostate</text>
<text transform="translate(309.95 76.85) scale(0.95 1)" class="cl">Breast</text>
<text transform="translate(309.95 89.93) scale(0.95 1)" class="cl">Bladder</text>
<text transform="translate(309.95 103.02) scale(0.95 1)" class="cl">Kidney</text>
<text transform="translate(309.95 116.1) scale(0.95 1)" class="cl">Colorectal</text>
<text transform="translate(309.95 129.18) scale(0.95 1)" class="cl">Ovarian</text>
<text transform="translate(309.95 142.27) scale(0.95 1)" class="cl">Lung</text>
<text transform="translate(309.95 155.35) scale(0.95 1)" class="cl">Pancreas</text>
<text transform="translate(309.95 168.43) scale(0.95 1)" class="cl">Stomach</text>
<text transform="translate(309.95 181.52) scale(0.95 1)" class="cl">Brain</text>
<text transform="translate(309.95 194.6) scale(0.95 1)" class="cl">Myeloma</text>
<text transform="translate(319 212.4) scale(0.96 1)" class="xl">0.0</text>
<text transform="translate(350.8 212.4) scale(0.96 1)" class="xl">0.5</text>
<text transform="translate(382.6 212.4) scale(0.96 1)" class="xl">1.0</text>
<text transform="translate(414.4 212.4) scale(0.96 1)" class="xl">1.5</text>
<text transform="translate(446.2 212.4) scale(0.96 1)" class="xl">2.0</text>
<text transform="translate(478 212.4) scale(0.96 1)" class="xl">2.5</text>
<text transform="translate(509.8 212.4) scale(0.96 1)" class="xl">3.0</text>
<text x="414.4" y="225" class="ht" transform="translate(414.4 0) scale(0.66 1) translate(-414.4 0)">HR and 95% CI</text>
<text transform="translate(7.1 252.3) scale(0.95 1)" class="pl">C</text>
<text x="63.3" y="257.6" class="lg">African-American</text>
<text x="132" y="257.6" class="lg">Hispanic</text>
<text x="174.4" y="257.6" class="lg">Asian/Pacific Islander</text>
<text transform="translate(42.4 274.7) scale(0.95 1)" class="cl">Uterine</text>
<text transform="translate(42.4 288.12) scale(0.95 1)" class="cl">NHL</text>
<text transform="translate(42.4 301.53) scale(0.95 1)" class="cl">Prostate</text>
<text transform="translate(42.4 314.95) scale(0.95 1)" class="cl">Breast</text>
<text transform="translate(42.4 328.37) scale(0.95 1)" class="cl">Bladder</text>
<text transform="translate(42.4 341.78) scale(0.95 1)" class="cl">Kidney</text>
<text transform="translate(42.4 355.2) scale(0.95 1)" class="cl">Colorectal</text>
<text transform="translate(42.4 368.62) scale(0.95 1)" class="cl">Ovarian</text>
<text transform="translate(42.4 382.03) scale(0.95 1)" class="cl">Lung</text>
<text transform="translate(42.4 395.45) scale(0.95 1)" class="cl">Pancreas</text>
<text transform="translate(42.4 408.87) scale(0.95 1)" class="cl">Stomach</text>
<text transform="translate(42.4 422.28) scale(0.95 1)" class="cl">Brain</text>
<text transform="translate(42.4 435.7) scale(0.95 1)" class="cl">Myeloma</text>
<text transform="translate(51.5 453.7) scale(0.96 1)" class="xl">0.0</text>
<text transform="translate(84.13 453.7) scale(0.96 1)" class="xl">0.5</text>
<text transform="translate(116.77 453.7) scale(0.96 1)" class="xl">1.0</text>
<text transform="translate(149.4 453.7) scale(0.96 1)" class="xl">1.5</text>
<text transform="translate(182.03 453.7) scale(0.96 1)" class="xl">2.0</text>
<text transform="translate(214.67 453.7) scale(0.96 1)" class="xl">2.5</text>
<text transform="translate(247.3 453.7) scale(0.96 1)" class="xl">3.0</text>
<text x="149.4" y="466.6" class="ht" transform="translate(149.4 0) scale(0.66 1) translate(-149.4 0)">HR and 95% CI</text>
<text transform="translate(268.9 252.25) scale(0.95 1)" class="pl">D</text>
<text x="325.7" y="257.6" class="lg">African-American</text>
<text x="394.4" y="257.6" class="lg">Hispanic</text>
<text x="436.8" y="257.6" class="lg">Asian/Pacific Islander</text>
<text transform="translate(304.9 274.7) scale(0.95 1)" class="cl">Uterine</text>
<text transform="translate(304.9 288.12) scale(0.95 1)" class="cl">NHL</text>
<text transform="translate(304.9 301.53) scale(0.95 1)" class="cl">Prostate</text>
<text transform="translate(304.9 314.95) scale(0.95 1)" class="cl">Breast</text>
<text transform="translate(304.9 328.37) scale(0.95 1)" class="cl">Bladder</text>
<text transform="translate(304.9 341.78) scale(0.95 1)" class="cl">Kidney</text>
<text transform="translate(304.9 355.2) scale(0.95 1)" class="cl">Colorectal</text>
<text transform="translate(304.9 368.62) scale(0.95 1)" class="cl">Ovarian</text>
<text transform="translate(304.9 382.03) scale(0.95 1)" class="cl">Lung</text>
<text transform="translate(304.9 395.45) scale(0.95 1)" class="cl">Pancreas</text>
<text transform="translate(304.9 408.87) scale(0.95 1)" class="cl">Stomach</text>
<text transform="translate(304.9 422.28) scale(0.95 1)" class="cl">Brain</text>
<text transform="translate(304.9 435.7) scale(0.95 1)" class="cl">Myeloma</text>
<text transform="translate(313.7 453.7) scale(0.96 1)" class="xl">0.0</text>
<text transform="translate(346.45 453.7) scale(0.96 1)" class="xl">0.5</text>
<text transform="translate(379.2 453.7) scale(0.96 1)" class="xl">1.0</text>
<text transform="translate(411.95 453.7) scale(0.96 1)" class="xl">1.5</text>
<text transform="translate(444.7 453.7) scale(0.96 1)" class="xl">2.0</text>
<text transform="translate(477.45 453.7) scale(0.96 1)" class="xl">2.5</text>
<text transform="translate(510.2 453.7) scale(0.96 1)" class="xl">3.0</text>
<text x="411.95" y="466.6" class="ht" transform="translate(411.95 0) scale(0.66 1) translate(-411.95 0)">HR and 95% CI</text>
<rect x="0" y="0" width="520" height="1" fill="#000"/><rect x="0" y="0" width="1.2" height="473" fill="#000"/><rect x="518.6" y="0" width="1.4" height="473" fill="#000"/><rect x="0" y="471.6" width="520" height="1.4" fill="#000"/>
</svg>
</body></html>
